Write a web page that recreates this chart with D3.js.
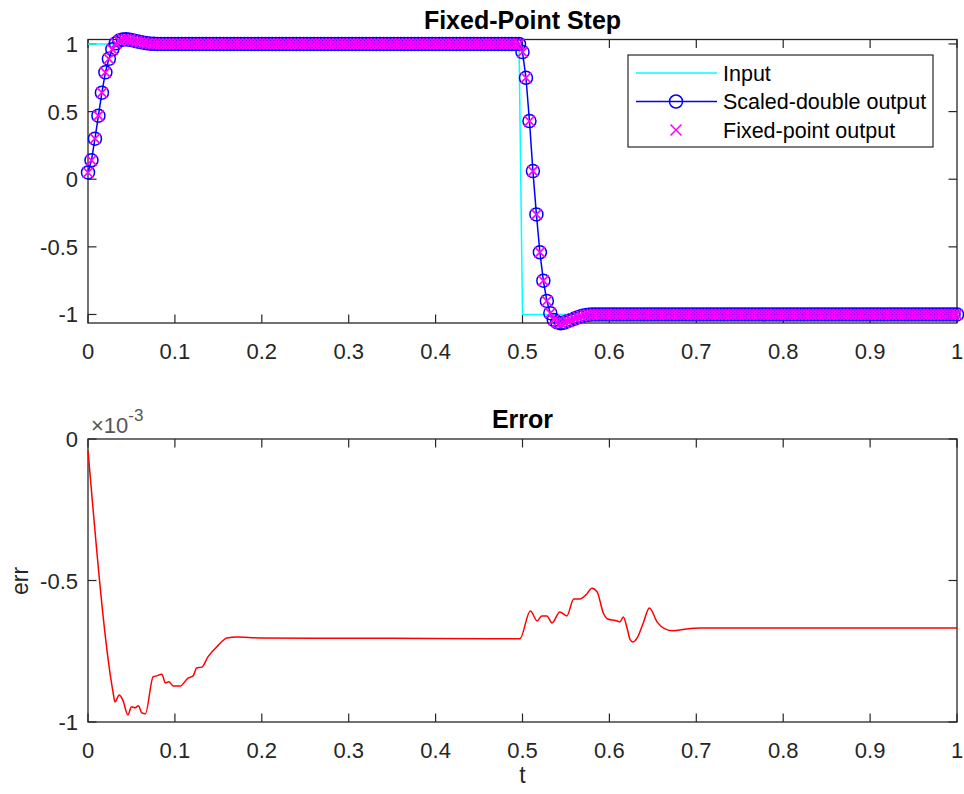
<!DOCTYPE html>
<html>
<head>
<meta charset="utf-8">
<script src="https://cdn.jsdelivr.net/npm/d3@7"></script>
<style>
  html, body { margin: 0; padding: 0; background: #fff; }
  svg { display: block; font-family: "Liberation Sans", Arial, Helvetica, sans-serif; }
</style>
</head>
<body>
<svg id="chart" width="964" height="794"></svg>
<script>
// ---------------- DATA ----------------
const xTicks = [0, 0.1, 0.2, 0.3, 0.4, 0.5, 0.6, 0.7, 0.8, 0.9, 1];
const xTickLabels = ["0", "0.1", "0.2", "0.3", "0.4", "0.5", "0.6", "0.7", "0.8", "0.9", "1"];
const stepYTicks = [1, 0.5, 0, -0.5, -1];
const stepYTickLabels = ["1", "0.5", "0", "-0.5", "-1"];
const errYTicks = [0, -0.5, -1];           // in units of 1e-3
const errYTickLabels = ["0", "-0.5", "-1"];

const seriesNames = ["Input", "Scaled-double output", "Fixed-point output"];

// Input step
const inputT = [0, 0.496, 0.5, 1];
const inputV = [1, 1, -1, -1];

// Output samples (sample step 0.004 s, t = 0 ... 1)
const sampleStep = 0.004;
const outputVals = [
  0.05, 0.14, 0.30, 0.47, 0.64, 0.79, 0.89, 0.96, 1.005, 1.025,
  1.033, 1.034, 1.031, 1.026, 1.02, 1.014, 1.009, 1.005, 1.002, 1.001,
  1,1,1,1,1,1,1,1,1,1,1,1,1,1,1,
  1,1,1,1,1,1,1,1,1,1,1,1,1,1,1,
  1,1,1,1,1,1,1,1,1,1,1,1,1,1,1,
  1,1,1,1,1,1,1,1,1,1,1,1,1,1,1,
  1,1,1,1,1,1,1,1,1,1,1,1,1,1,1,
  1,1,1,1,1,1,1,1,1,1,1,1,1,1,1,
  1,1,1,1,1,1,1,1,1,1,1,1,1,1,1,
  0.94, 0.75, 0.43, 0.06, -0.26, -0.54, -0.75, -0.90, -0.99, -1.04,
  -1.058, -1.065, -1.06, -1.05, -1.04, -1.03, -1.02, -1.012, -1.006, -1.002,
  -1,-1,-1,-1,-1,-1,-1,-1,-1,-1,-1,-1,-1,-1,-1,
  -1,-1,-1,-1,-1,-1,-1,-1,-1,-1,-1,-1,-1,-1,-1,
  -1,-1,-1,-1,-1,-1,-1,-1,-1,-1,-1,-1,-1,-1,-1,
  -1,-1,-1,-1,-1,-1,-1,-1,-1,-1,-1,-1,-1,-1,-1,
  -1,-1,-1,-1,-1,-1,-1,-1,-1,-1,-1,-1,-1,-1,-1,
  -1,-1,-1,-1,-1,-1,-1,-1,-1,-1,-1,-1,-1,-1,-1,
  -1,-1,-1,-1,-1,-1,-1,-1,-1,-1,-1,-1,-1,-1,-1,
  -1
];

// Error (x 1e-3)
const errT = [0, 0.0288, 0.031, 0.036, 0.040, 0.046, 0.050, 0.054, 0.058, 0.062, 0.066,
  0.075, 0.079, 0.085, 0.089, 0.093, 0.098, 0.106, 0.115, 0.121, 0.125, 0.131, 0.138,
  0.148, 0.160, 0.171, 0.198, 0.30, 0.40, 0.497,
  0.509, 0.517, 0.522, 0.528, 0.534, 0.543, 0.551, 0.559, 0.566, 0.573, 0.580, 0.586,
  0.593, 0.598, 0.609, 0.612, 0.616, 0.620, 0.624, 0.627, 0.632, 0.639, 0.646, 0.655,
  0.664, 0.673, 0.689, 0.704, 0.727, 0.80, 0.90, 1.0];
const errV = [-0.04, -0.894, -0.929, -0.905, -0.922, -0.975, -0.946, -0.95, -0.943, -0.968, -0.971,
  -0.84, -0.837, -0.831, -0.862, -0.858, -0.873, -0.873, -0.845, -0.837, -0.809, -0.806, -0.77,
  -0.735, -0.703, -0.70, -0.703, -0.704, -0.705, -0.706,
  -0.608, -0.643, -0.625, -0.625, -0.65, -0.611, -0.625, -0.565, -0.565, -0.551, -0.527, -0.541,
  -0.615, -0.636, -0.643, -0.647, -0.629, -0.664, -0.710, -0.717, -0.703, -0.650, -0.597, -0.647,
  -0.671, -0.678, -0.671, -0.668, -0.668, -0.668, -0.668, -0.668];

// ---------------- DRAW ----------------
const svg = d3.select("#chart");
const AX = "#262626";
const C_IN = "#00ffff", C_SD = "#0000ff", C_FX = "#ff00ff", C_ERR = "#ff0000";

svg.append("rect").attr("width", 964).attr("height", 794).attr("fill", "#fff");

const left = 88, right = 957;
const x = d3.scaleLinear().domain([0, 1]).range([left, right]);
const yTop = d3.scaleLinear().domain([-1.063, 1.033]).range([323, 39.5]);
const yBot = d3.scaleLinear().domain([-1, 0]).range([722, 439]);

function drawAxes(y, yTicks, yLabels, title) {
  const g = svg.append("g");
  const [y0, y1] = y.range(); // bottom, top
  const tl = 8.5;
  g.append("rect").attr("x", left).attr("y", y1).attr("width", right - left).attr("height", y0 - y1)
    .attr("fill", "#fff").attr("stroke", AX).attr("stroke-width", 1.3);
  xTicks.forEach((v, i) => {
    const px = x(v);
    g.append("line").attr("x1", px).attr("x2", px).attr("y1", y0).attr("y2", y0 - tl).attr("stroke", AX).attr("stroke-width", 1.2);
    g.append("line").attr("x1", px).attr("x2", px).attr("y1", y1).attr("y2", y1 + tl).attr("stroke", AX).attr("stroke-width", 1.2);
    g.append("text").attr("x", px).attr("y", y0 + 36).attr("text-anchor", "middle")
      .attr("font-size", 22).attr("fill", AX).text(xTickLabels[i]);
  });
  yTicks.forEach((v, i) => {
    const py = y(v);
    g.append("line").attr("x1", left).attr("x2", left + tl).attr("y1", py).attr("y2", py).attr("stroke", AX).attr("stroke-width", 1.2);
    g.append("line").attr("x1", right).attr("x2", right - tl).attr("y1", py).attr("y2", py).attr("stroke", AX).attr("stroke-width", 1.2);
    g.append("text").attr("x", 78).attr("y", py + 8).attr("text-anchor", "end")
      .attr("font-size", 22).attr("fill", AX).text(yLabels[i]);
  });
  g.append("text").attr("x", (left + right) / 2).attr("y", y1 - 11).attr("text-anchor", "middle")
    .attr("font-size", 25).attr("font-weight", "bold").attr("fill", "#000").text(title);
  return g;
}

// ---- Top axes ----
drawAxes(yTop, stepYTicks, stepYTickLabels, "Fixed-Point Step");

const outData = outputVals.map((v, i) => ({ t: i * sampleStep, v }));
const inData = inputT.map((t, i) => ({ t, v: inputV[i] }));
const lineTop = d3.line().x(d => x(d.t)).y(d => yTop(d.v));

const gData = svg.append("g");
gData.append("path").datum(inData).attr("d", lineTop).attr("fill", "none")
  .attr("stroke", C_IN).attr("stroke-width", 1.5);
gData.append("path").datum(outData).attr("d", lineTop).attr("fill", "none")
  .attr("stroke", C_SD).attr("stroke-width", 1.5);
gData.selectAll("circle.sd").data(outData).enter().append("circle")
  .attr("class", "sd").attr("cx", d => x(d.t)).attr("cy", d => yTop(d.v)).attr("r", 6.5)
  .attr("fill", "none").attr("stroke", C_SD).attr("stroke-width", 1.5);
const xs = 5.3;
gData.selectAll("path.fx").data(outData).enter().append("path")
  .attr("class", "fx")
  .attr("d", d => {
    const cx = x(d.t), cy = yTop(d.v);
    return `M${cx - xs},${cy - xs}L${cx + xs},${cy + xs}M${cx - xs},${cy + xs}L${cx + xs},${cy - xs}`;
  })
  .attr("fill", "none").attr("stroke", C_FX).attr("stroke-width", 1.7);

// Legend
const lg = svg.append("g");
lg.append("rect").attr("x", 628).attr("y", 55).attr("width", 305).attr("height", 92)
  .attr("fill", "#fff").attr("stroke", AX).attr("stroke-width", 1.2);
const rowY = [73, 101.5, 130];
lg.append("line").attr("x1", 636).attr("x2", 717).attr("y1", rowY[0]).attr("y2", rowY[0]).attr("stroke", C_IN).attr("stroke-width", 1.5);
lg.append("line").attr("x1", 636).attr("x2", 717).attr("y1", rowY[1]).attr("y2", rowY[1]).attr("stroke", C_SD).attr("stroke-width", 1.5);
lg.append("circle").attr("cx", 676).attr("cy", rowY[1]).attr("r", 6.5).attr("fill", "none").attr("stroke", C_SD).attr("stroke-width", 1.5);
const lx = 5.5;
lg.append("path").attr("d", `M${676 - lx},${rowY[2] - lx}L${676 + lx},${rowY[2] + lx}M${676 - lx},${rowY[2] + lx}L${676 + lx},${rowY[2] - lx}`)
  .attr("stroke", C_FX).attr("stroke-width", 1.5).attr("fill", "none");
seriesNames.forEach((n, i) => {
  lg.append("text").attr("x", 723).attr("y", rowY[i] + 7.7).attr("font-size", 21.5).attr("fill", "#000").text(n);
});

// ---- Bottom axes ----
drawAxes(yBot, errYTicks, errYTickLabels, "Error");
const errData = errT.map((t, i) => ({ t, v: errV[i] }));
svg.append("path").datum(errData)
  .attr("d", d3.line().x(d => x(d.t)).y(d => yBot(d.v)).curve(d3.curveMonotoneX))
  .attr("fill", "none").attr("stroke", C_ERR).attr("stroke-width", 1.5);

// Exponent label
const ex = svg.append("text").attr("x", 91).attr("y", 433).attr("font-size", 22).attr("fill", "#555");
ex.append("tspan").text("×10");
ex.append("tspan").attr("dy", -12).attr("font-size", 17).text("-3");

// Axis labels
svg.append("text").attr("x", (left + right) / 2).attr("y", 783).attr("text-anchor", "middle")
  .attr("font-size", 23).attr("fill", AX).text("t");
svg.append("text").attr("transform", "translate(28,581) rotate(-90)").attr("text-anchor", "middle")
  .attr("font-size", 23).attr("fill", AX).text("err");
</script>
</body>
</html>
